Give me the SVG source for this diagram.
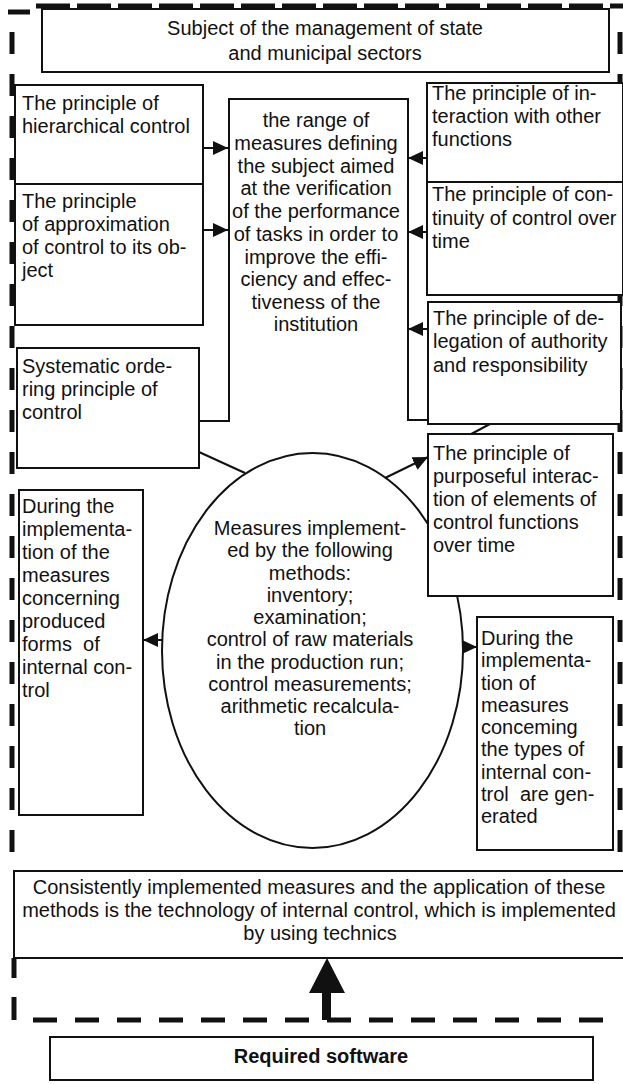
<svg xmlns="http://www.w3.org/2000/svg" width="623" height="1084" viewBox="0 0 623 1084">
<defs>
<style>
.box{fill:#fff;stroke:#111;stroke-width:2}
.ln{fill:none;stroke:#111;stroke-width:2}
.bd{fill:none;stroke:#111;stroke-width:5}
text{font-family:"Liberation Sans",Arial,sans-serif;font-size:20px;fill:#111;white-space:pre}
.c{text-anchor:middle}
.b{font-weight:bold}
</style>
<marker id="ah" markerUnits="userSpaceOnUse" markerWidth="15" markerHeight="14" refX="15" refY="7" orient="auto">
<path d="M0,0 L15,7 L0,14 z" fill="#111"/>
</marker>
</defs>
<rect width="623" height="1084" fill="#fff"/>
<g id="border">
<line x1="36" y1="6" x2="623" y2="6" class="bd" stroke-width="3.5" stroke-dasharray="34 7"/>
<line x1="8" y1="12" x2="30" y2="12" class="bd" stroke-width="4"/>
<line x1="12" y1="32" x2="12" y2="860" class="bd" stroke-dasharray="22 20"/>
<line x1="14" y1="958" x2="14" y2="978" class="bd" stroke-width="4"/>
<line x1="14" y1="997" x2="14" y2="1020" class="bd" stroke-width="4"/>
<line x1="620" y1="32" x2="620" y2="860" class="bd" stroke-dasharray="22 20"/>
<line x1="33" y1="1020" x2="612" y2="1020" class="bd" stroke-width="6" stroke-dasharray="24 18"/>
</g>
<g id="connectors">
<line x1="203" y1="148" x2="228" y2="148" class="ln" marker-end="url(#ah)"/>
<line x1="203" y1="230" x2="228" y2="230" class="ln" marker-end="url(#ah)"/>
<line x1="427" y1="158" x2="408" y2="158" class="ln" marker-end="url(#ah)"/>
<line x1="427" y1="232" x2="408" y2="232" class="ln" marker-end="url(#ah)"/>
<line x1="428" y1="329" x2="408" y2="329" class="ln" marker-end="url(#ah)"/>
<line x1="199" y1="452" x2="245" y2="473" class="ln"/>
<line x1="385" y1="478" x2="428" y2="457" class="ln" marker-end="url(#ah)"/>
<line x1="428" y1="457" x2="490" y2="424" class="ln"/>
<line x1="162" y1="640" x2="143" y2="640" class="ln" marker-end="url(#ah)"/>
<line x1="463" y1="647" x2="477" y2="647" class="ln" marker-end="url(#ah)"/>
<polygon points="322,1020 331,1020 331,993 345,993 327,958 309,993 322,993" fill="#111"/>
</g>
<g id="subject">
<rect x="42" y="9" width="567" height="63" class="box"/>
<text x="325" y="35" class="c">Subject of the management of state</text>
<text x="325" y="60" class="c">and municipal sectors</text>
</g>
<g id="hierarchical">
<rect x="15" y="85" width="188" height="99" class="box"/>
<text x="22" y="110">The principle of</text>
<text x="22" y="133">hierarchical control</text>
</g>
<g id="approximation">
<rect x="15" y="184" width="188" height="141" class="box"/>
<text x="22" y="208">The principle</text>
<text x="22" y="231">of approximation</text>
<text x="22" y="254">of control to its ob-</text>
<text x="22" y="277">ject</text>
</g>
<g id="range">
<path d="M199,421 L229,421 L229,99 L408,99 L408,420 L428,420" class="ln"/>
<text class="c" x="316" y="127">the range of</text>
<text class="c" x="316" y="150">measures defining</text>
<text class="c" x="316" y="172.5">the subject aimed</text>
<text class="c" x="316" y="195">at the verification</text>
<text class="c" x="316" y="218">of the performance</text>
<text class="c" x="316" y="241">of tasks in order to</text>
<text class="c" x="316" y="263.5">improve the effi-</text>
<text class="c" x="316" y="286">ciency and effec-</text>
<text class="c" x="316" y="309">tiveness of the</text>
<text class="c" x="316" y="331">institution</text>
</g>
<g id="interaction">
<rect x="427" y="83" width="196" height="99" class="box"/>
<text x="432" y="100">The principle of in-</text>
<text x="432" y="123">teraction with other</text>
<text x="432" y="146">functions</text>
</g>
<g id="continuity">
<rect x="427" y="182" width="196" height="113" class="box"/>
<text x="432" y="201">The principle of con-</text>
<text x="432" y="224.5">tinuity of control over</text>
<text x="432" y="248">time</text>
</g>
<g id="delegation">
<rect x="428" y="302" width="193" height="122" class="box"/>
<text x="433" y="325">The principle of de-</text>
<text x="433" y="348">legation of authority</text>
<text x="433" y="371.5">and responsibility</text>
</g>
<g id="systematic">
<rect x="17" y="348" width="182" height="120" class="box"/>
<text x="22" y="373">Systematic orde-</text>
<text x="22" y="396">ring principle of</text>
<text x="22" y="419">control</text>
</g>
<g id="methods">
<ellipse cx="312.5" cy="650.5" rx="150.5" ry="197.5" class="ln"/>
<text class="c" x="310" y="535">Measures implement-</text>
<text class="c" x="310" y="557">ed by the following</text>
<text class="c" x="310" y="579.5">methods:</text>
<text class="c" x="310" y="602">inventory;</text>
<text class="c" x="310" y="624">examination;</text>
<text class="c" x="310" y="646">control of raw materials</text>
<text class="c" x="310" y="668.5">in the production run;</text>
<text class="c" x="310" y="691">control measurements;</text>
<text class="c" x="310" y="713">arithmetic recalcula-</text>
<text class="c" x="310" y="735">tion</text>
</g>
<g id="purposeful">
<rect x="428" y="434" width="185" height="162" class="box"/>
<text x="433" y="460">The principle of</text>
<text x="433" y="483">purposeful interac-</text>
<text x="433" y="506">tion of elements of</text>
<text x="433" y="529">control functions</text>
<text x="433" y="552">over time</text>
</g>
<g id="produced-forms">
<rect x="19" y="490" width="124" height="325" class="box"/>
<text x="22" y="513">During the</text>
<text x="22" y="536">implementa-</text>
<text x="22" y="559">tion of the</text>
<text x="22" y="582">measures</text>
<text x="22" y="605">concerning</text>
<text x="22" y="628">produced</text>
<text x="22" y="651" xml:space="preserve">forms  of</text>
<text x="22" y="674">internal con-</text>
<text x="22" y="697">trol</text>
</g>
<g id="types">
<rect x="477" y="617" width="136" height="233" class="box"/>
<text x="481" y="645">During the</text>
<text x="481" y="667">implementa-</text>
<text x="481" y="689.5">tion of</text>
<text x="481" y="712">measures</text>
<text x="481" y="734">conceming</text>
<text x="481" y="756">the types of</text>
<text x="481" y="778.5">internal con-</text>
<text x="481" y="801" xml:space="preserve">trol  are gen-</text>
<text x="481" y="823">erated</text>
</g>
<g id="technology">
<rect x="14" y="871" width="615" height="87" class="box"/>
<text class="c" x="319" y="894">Consistently implemented measures and the application of these</text>
<text class="c" x="319" y="917">methods is the technology of internal control, which is implemented</text>
<text class="c" x="320" y="940">by using technics</text>
</g>
<g id="software">
<rect x="50" y="1037" width="543" height="43" class="box"/>
<text class="c b" x="321" y="1063">Required software</text>
</g>
</svg>
